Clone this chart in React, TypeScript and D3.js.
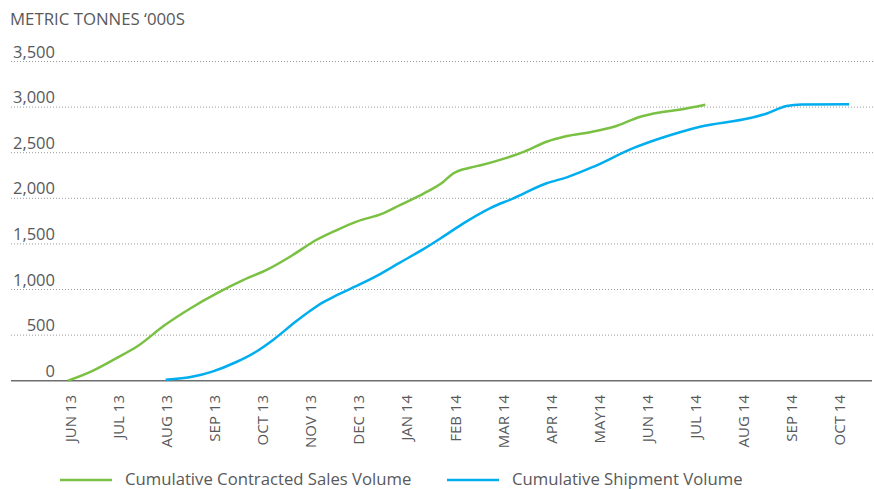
import React, { useEffect, useRef } from 'react';
import * as d3 from 'd3';

// month tick labels
const months = ["JUN 13", "JUL 13", "AUG 13", "SEP 13", "OCT 13", "NOV 13", "DEC 13", "JAN 14",
  "FEB 14", "MAR 14", "APR 14", "MAY14", "JUN 14", "JUL 14", "AUG 14", "SEP 14", "OCT 14"];

const yTicks = [0, 500, 1000, 1500, 2000, 2500, 3000, 3500];

// cumulative contracted sales: position in months from JUN 13, value in '000 t
const salesT = [0, 0.5, 1.0, 1.45, 2.0, 2.55, 3.1, 3.65, 4.15, 4.65, 5.15, 5.6, 6.0, 6.55, 6.9, 7.4, 7.8,
  8.0, 8.35, 8.6, 9.1, 9.5, 9.95, 10.35, 10.9, 11.35, 11.9, 12.3, 12.7, 13.25];
const salesV = [0, 105, 245, 380, 605, 795, 960, 1105, 1220, 1370, 1540, 1655, 1745, 1835, 1925, 2055, 2180,
  2270, 2335, 2365, 2440, 2515, 2620, 2680, 2730, 2785, 2895, 2940, 2970, 3025];

// cumulative shipment
const shipT = [2.03, 2.6, 3.0, 3.5, 3.9, 4.27, 4.75, 5.03, 5.31, 5.51, 5.86, 6.42, 6.9, 7.38, 7.8, 8.22, 8.77, 9.26,
  9.95, 10.37, 10.92, 11.75, 12.24, 12.72, 13.14, 14.18, 14.53, 14.94, 15.25, 16.24];
const shipV = [10, 45, 100, 205, 315, 450, 655, 765, 862, 917, 1005, 1150, 1295, 1440, 1580, 1725, 1890, 2000,
  2165, 2230, 2345, 2550, 2645, 2725, 2785, 2880, 2930, 3012, 3028, 3030];

const textColor = "#58595b";
const font = "'Open Sans', sans-serif";

export default function App() {
  const ref = useRef<SVGSVGElement>(null);

  useEffect(() => {
    const svg = d3.select(ref.current);
    svg.selectAll("*").remove();

    const x = d3.scaleLinear().domain([0, months.length - 1]).range([68, 837.6]);
    const y = d3.scaleLinear().domain([0, 3500]).range([380.7, 61.5]);

    // title
    svg.append("text")
      .attr("x", 10).attr("y", 25)
      .attr("font-family", font).attr("font-size", 16.8)
      .attr("fill", textColor)
      .text("METRIC TONNES \u2018000S");

    // gridlines
    svg.selectAll(".grid")
      .data(yTicks.filter(d => d > 0))
      .enter().append("line")
      .attr("x1", 11).attr("x2", 874)
      .attr("y1", d => y(d)).attr("y2", d => y(d))
      .attr("stroke", "#9a9a9a")
      .attr("stroke-width", 1)
      .attr("stroke-dasharray", "1,2");

    svg.append("line")
      .attr("x1", 11).attr("x2", 872)
      .attr("y1", y(0)).attr("y2", y(0))
      .attr("stroke", "#6d6e70").attr("stroke-width", 1.5);

    // y labels
    svg.selectAll(".ylab")
      .data(yTicks)
      .enter().append("text")
      .attr("x", 55).attr("y", d => y(d) - 4)
      .attr("text-anchor", "end")
      .attr("font-family", font).attr("font-size", 16.5)
      .attr("fill", textColor)
      .text(d => d3.format(",")(d));

    // x labels
    svg.selectAll(".xlab")
      .data(months)
      .enter().append("text")
      .attr("transform", (d, i) => "translate(" + (x(i) + 2.5) + ",395)rotate(-90)")
      .attr("text-anchor", "end")
      .attr("dy", "0.35em")
      .attr("font-family", font).attr("font-size", 15)
      .attr("fill", textColor)
      .text(d => d);

    const line = d3.line<[number, number]>()
      .x(d => x(d[0]))
      .y(d => y(d[1]))
      .curve(d3.curveMonotoneX);

    const sales = salesT.map((t, i) => [t, salesV[i]] as [number, number]);
    const ship = shipT.map((t, i) => [t, shipV[i]] as [number, number]);

    svg.append("path").datum(sales)
      .attr("d", line).attr("fill", "none")
      .attr("stroke", "#7ac143").attr("stroke-width", 2.5);

    svg.append("path").datum(ship)
      .attr("d", line).attr("fill", "none")
      .attr("stroke", "#00aeef").attr("stroke-width", 2.5);

    // legend
    const legend = [
      { label: "Cumulative Contracted Sales Volume", color: "#7ac143", x: 60 },
      { label: "Cumulative Shipment Volume", color: "#00aeef", x: 447 },
    ];
    legend.forEach(l => {
      svg.append("line")
        .attr("x1", l.x).attr("x2", l.x + 52)
        .attr("y1", 480).attr("y2", 480)
        .attr("stroke", l.color).attr("stroke-width", 2.5);
      svg.append("text")
        .attr("x", l.x + 65).attr("y", 485)
        .attr("font-family", font).attr("font-size", 16.7)
        .attr("fill", textColor)
        .text(l.label);
    });
  }, []);

  return (
    <svg ref={ref} width={874} height={489}
      style={{ position: "absolute", left: 0, top: 0, background: "#fff" }} />
  );
}
